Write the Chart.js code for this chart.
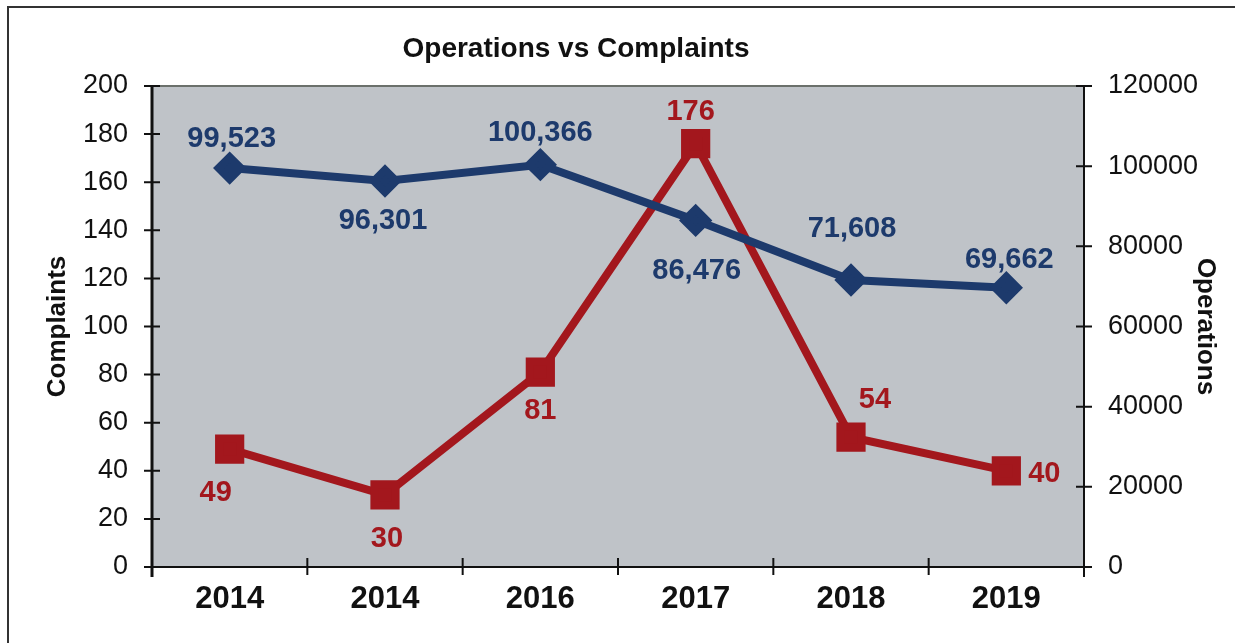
<!DOCTYPE html>
<html lang="en">

<head>
    <meta charset="UTF-8">
    <title>Operations vs Complaints</title>
    <script src="https://cdn.jsdelivr.net/npm/chart.js@4.4.1/dist/chart.umd.min.js"></script>
    <style>
        body { margin: 0; background: #fff; }
    </style>
</head>

<body>
    <canvas id="chart" width="1235" height="643"></canvas>
    <script>
        // chart data
        const years = ['2014', '2014', '2016', '2017', '2018', '2019'];
        const operations = [99523, 96301, 100366, 86476, 71608, 69662];
        const complaints = [49, 30, 81, 176, 54, 40];
        const complaintTicks = [0, 20, 40, 60, 80, 100, 120, 140, 160, 180, 200];
        const operationTicks = [0, 20000, 40000, 60000, 80000, 100000, 120000];
        const chartTitle = 'Operations vs Complaints';

        // where each value label sits relative to its point [dx, dy]
        const opsLabelOffset = [[2, -29], [-2, 40], [0, -32], [1, 51], [1, -51], [3, -28]];
        const compLabelOffset = [[-14, 44], [2, 44], [0, 39], [-5, -32], [24, -37], [38, 3]];

        const BLUE = '#1d3a6c';
        const RED = '#a3171d';
        const FONT = "'Liberation Sans', Arial, sans-serif";

        // plot background, frame, title, axis lines and crossing ticks
        const framePlugin = {
            id: 'frame',
            beforeDraw(chart) {
                const { ctx, chartArea: a } = chart;
                ctx.save();
                ctx.fillStyle = '#fff';
                ctx.fillRect(0, 0, chart.width, chart.height);
                ctx.fillStyle = '#bfc3c8';
                ctx.fillRect(a.left, a.top, a.right - a.left, a.bottom - a.top);
                // outer border
                ctx.strokeStyle = '#333';
                ctx.lineWidth = 2;
                ctx.beginPath();
                ctx.moveTo(8, chart.height);
                ctx.lineTo(8, 7);
                ctx.lineTo(chart.width, 7);
                ctx.stroke();
                // title, sits a bit left of the plot centre in the original
                ctx.fillStyle = '#111';
                ctx.font = 'bold 28px ' + FONT;
                ctx.textAlign = 'center';
                ctx.textBaseline = 'middle';
                ctx.fillText(chartTitle, (a.left + a.right) / 2 - 42, 49);
                ctx.restore();
            },
            beforeDatasetsDraw(chart) {
                const { ctx, chartArea: a, scales } = chart;
                ctx.save();
                ctx.strokeStyle = '#6b706b';
                ctx.lineWidth = 2;
                ctx.beginPath();
                ctx.moveTo(a.left, a.top);
                ctx.lineTo(a.right, a.top);
                ctx.stroke();

                ctx.strokeStyle = '#111';
                ctx.lineWidth = 3;
                ctx.beginPath();
                ctx.moveTo(a.left, a.top - 1);
                ctx.lineTo(a.left, a.bottom + 10);
                ctx.stroke();
                ctx.lineWidth = 2;
                ctx.beginPath();
                ctx.moveTo(a.right, a.top - 1);
                ctx.lineTo(a.right, a.bottom + 10);
                ctx.moveTo(a.left, a.bottom);
                ctx.lineTo(a.right, a.bottom);
                ctx.stroke();

                ctx.beginPath();
                const yL = scales.y;
                yL.ticks.forEach((t, i) => {
                    const y = yL.getPixelForTick(i);
                    ctx.moveTo(a.left - 8, y);
                    ctx.lineTo(a.left + 8, y);
                });
                const yR = scales.y1;
                yR.ticks.forEach((t, i) => {
                    const y = yR.getPixelForTick(i);
                    ctx.moveTo(a.right - 8, y);
                    ctx.lineTo(a.right + 8, y);
                });
                const x = scales.x;
                for (let i = 1; i < years.length; i++) {
                    const px = (x.getPixelForValue(i - 1) + x.getPixelForValue(i)) / 2;
                    ctx.moveTo(px, a.bottom - 9);
                    ctx.lineTo(px, a.bottom + 8);
                }
                ctx.stroke();
                ctx.restore();
            },
            afterDatasetsDraw(chart) {
                const { ctx } = chart;
                ctx.save();
                ctx.font = 'bold 29px ' + FONT;
                ctx.textAlign = 'center';
                ctx.textBaseline = 'middle';
                const sets = [
                    { idx: 0, fmt: v => v.toLocaleString('en-US'), off: opsLabelOffset, color: BLUE },
                    { idx: 1, fmt: v => String(v), off: compLabelOffset, color: RED }
                ];
                sets.forEach(s => {
                    const meta = chart.getDatasetMeta(s.idx);
                    const data = chart.data.datasets[s.idx].data;
                    ctx.fillStyle = s.color;
                    meta.data.forEach((pt, i) => {
                        const [dx, dy] = s.off[i];
                        ctx.fillText(s.fmt(data[i]), pt.x + dx, pt.y + dy);
                    });
                });
                ctx.restore();
            }
        };

        const canvas = document.getElementById('chart');
        let chart = new Chart(canvas, {
            type: 'line',
            data: {
                labels: years,
                datasets: [{
                    label: 'Operations',
                    data: operations,
                    yAxisID: 'y1',
                    borderColor: BLUE,
                    backgroundColor: BLUE,
                    borderWidth: 8,
                    pointStyle: 'rectRot',
                    pointRadius: 11,
                    pointHoverRadius: 11,
                    tension: 0
                }, {
                    label: 'Complaints',
                    data: complaints,
                    yAxisID: 'y',
                    borderColor: RED,
                    backgroundColor: RED,
                    borderWidth: 8,
                    pointStyle: 'rect',
                    pointRadius: 15,
                    pointHoverRadius: 15,
                    tension: 0
                }]
            },
            options: {
                responsive: false,
                animation: false,
                layout: { padding: { top: 86 } },
                plugins: {
                    legend: { display: false },
                    tooltip: { enabled: false },
                    title: { display: false }
                },
                scales: {
                    x: {
                        offset: true,
                        grid: { display: false, drawTicks: false },
                        border: { display: false },
                        ticks: {
                            color: '#111',
                            padding: 14,
                            font: { family: FONT, size: 31, weight: 'bold' }
                        },
                        afterFit(s) { s.height = 76; }
                    },
                    y: {
                        position: 'left',
                        min: 0,
                        max: 200,
                        afterBuildTicks(s) { s.ticks = complaintTicks.map(v => ({ value: v })); },
                        grid: { display: false, drawTicks: false },
                        border: { display: false },
                        ticks: {
                            color: '#111',
                            padding: 24,
                            font: { family: FONT, size: 27 }
                        },
                        title: {
                            display: true,
                            text: 'Complaints',
                            color: '#111',
                            font: { family: FONT, size: 26, weight: 'bold', lineHeight: 1.2 },
                            padding: { top: 42 }
                        },
                        afterFit(s) { s.width = 152; }
                    },
                    y1: {
                        position: 'right',
                        min: 0,
                        max: 120000,
                        afterBuildTicks(s) { s.ticks = operationTicks.map(v => ({ value: v })); },
                        grid: { display: false, drawTicks: false },
                        border: { display: false },
                        ticks: {
                            color: '#111',
                            padding: 24,
                            font: { family: FONT, size: 27 },
                            callback: v => String(v)
                        },
                        title: {
                            display: true,
                            text: 'Operations',
                            color: '#111',
                            font: { family: FONT, size: 26, weight: 'bold', lineHeight: 1.2 },
                            padding: { top: 14 }
                        },
                        afterFit(s) { s.width = 151; }
                    }
                }
            },
            plugins: [framePlugin]
        });
    </script>
</body>

</html>
